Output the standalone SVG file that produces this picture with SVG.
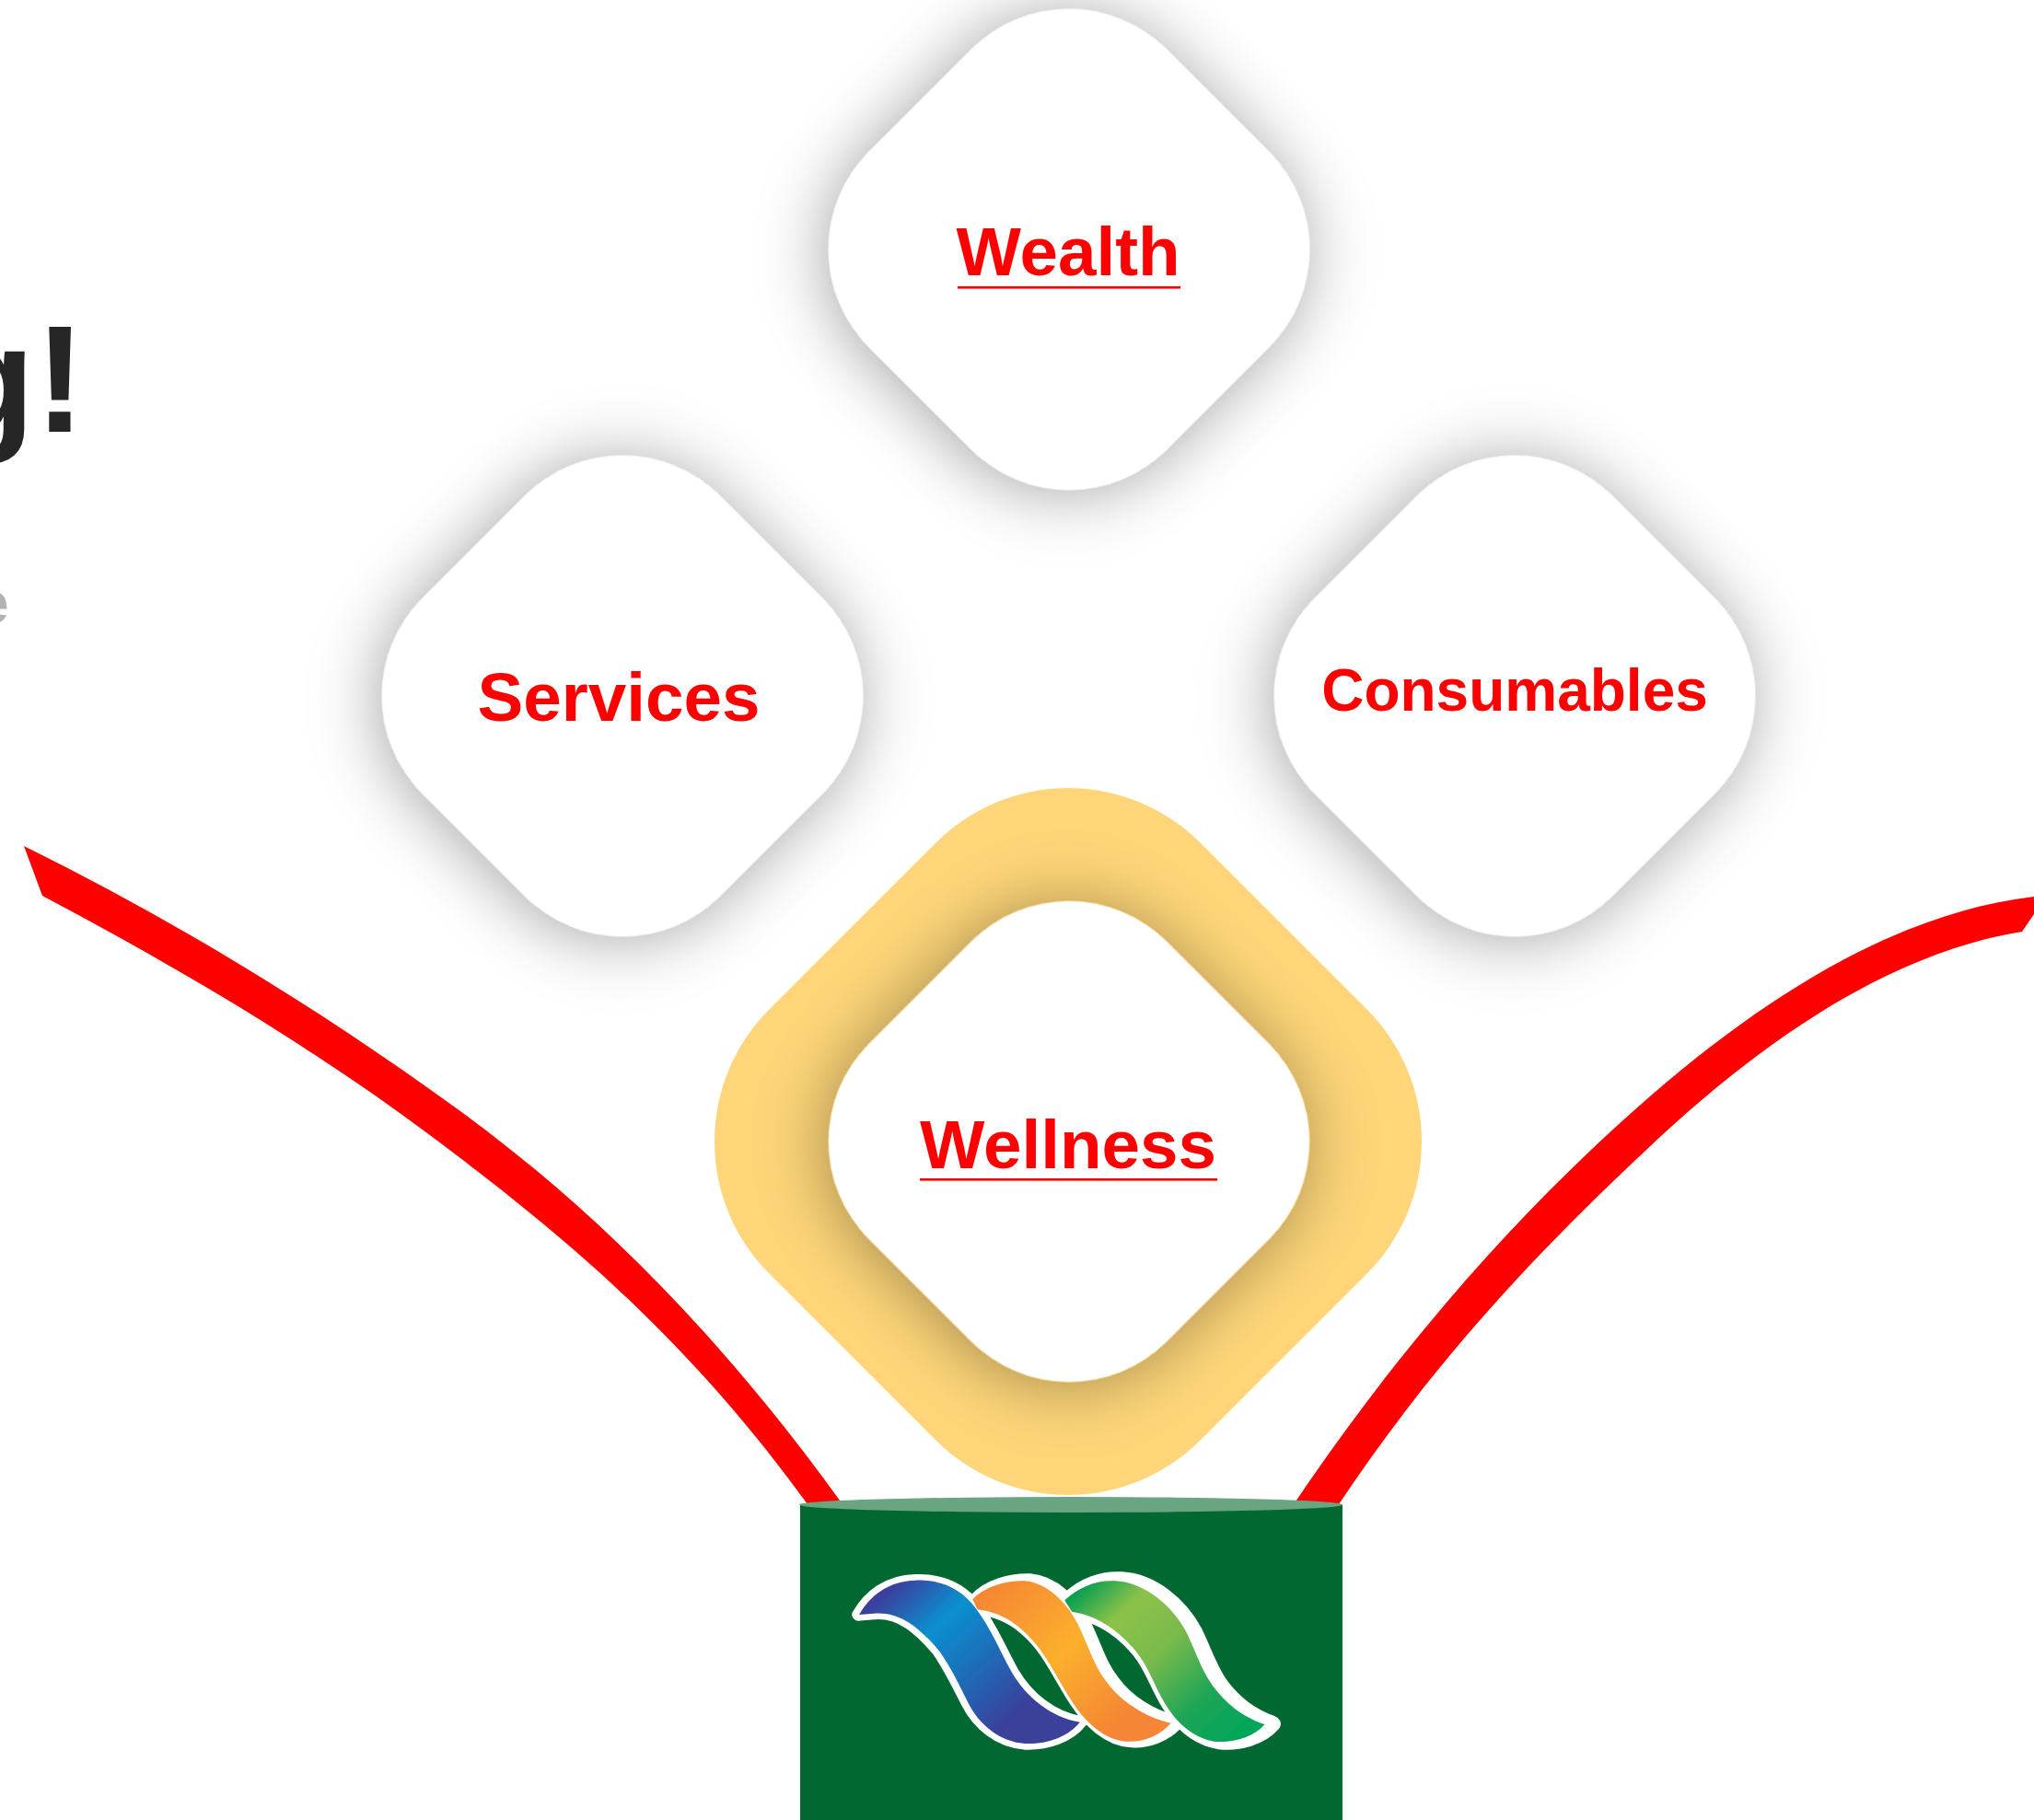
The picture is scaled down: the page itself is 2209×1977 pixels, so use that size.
<svg xmlns="http://www.w3.org/2000/svg" width="2209" height="1977" viewBox="0 0 2209 1977">
<style>
text{font-family:"Liberation Sans",Arial,sans-serif;font-weight:700}
.lbl{fill:#ff0000;font-size:74.6px}
.cn{fill:#ff0000}
.halo{fill:#ffffff;stroke:#ffffff;stroke-linejoin:round}
</style>
<defs>
<filter id="sh" x="-40%" y="-40%" width="180%" height="180%"><feDropShadow dx="0" dy="5" stdDeviation="36" flood-color="#000" flood-opacity="0.36"/></filter>
<filter id="soft" x="-5%" y="-5%" width="110%" height="110%"><feGaussianBlur stdDeviation="1.3"/></filter>
<linearGradient id="gb" gradientUnits="userSpaceOnUse" x1="230" y1="420" x2="700" y2="840"><stop offset="0" stop-color="#3B3F9C"/><stop offset=".28" stop-color="#0A90D0"/><stop offset=".55" stop-color="#1E6CB8"/><stop offset=".85" stop-color="#3A3F9A"/></linearGradient>
<linearGradient id="go" gradientUnits="userSpaceOnUse" x1="510" y1="400" x2="1000" y2="850"><stop offset="0" stop-color="#F58634"/><stop offset=".45" stop-color="#FBB02C"/><stop offset=".85" stop-color="#F58634"/></linearGradient>
<linearGradient id="gg" gradientUnits="userSpaceOnUse" x1="770" y1="410" x2="1250" y2="850"><stop offset="0" stop-color="#0DA050"/><stop offset=".2" stop-color="#8CC24A"/><stop offset=".45" stop-color="#7ABA4C"/><stop offset=".75" stop-color="#1DA557"/><stop offset="1" stop-color="#00A65A"/></linearGradient>
<rect id="dia" x="-228.5" y="-228.5" width="457" height="457" rx="150" ry="150" fill="#fff" filter="url(#sh)"/>
<path id="rb" d="M185 462C215 400 265 352 340 350C420 347 470 385 505 440C550 510 575 590 605 650C645 730 710 795 792 812C760 860 700 885 640 882C570 875 515 820 485 750C460 690 435 630 405 580C355 510 300 450 225 458Z"/>
<path id="ro" d="M497 412C530 370 590 350 640 352C700 358 755 420 785 490C815 560 830 630 865 680C905 745 970 795 1042 815C1010 860 960 878 920 875C860 872 805 810 770 745C740 690 715 630 685 580C645 515 590 455 510 445Z"/>
<path id="rg" d="M750 415C790 370 840 348 890 352C970 358 1045 430 1085 520C1110 580 1125 640 1155 690C1195 755 1240 795 1300 820C1270 862 1210 882 1160 875C1100 862 1055 810 1025 750C995 690 980 630 945 580C895 510 840 465 770 452Z"/>
</defs>
<rect id="bg" width="2209" height="1977" fill="#fff"/>
<g id="title">
<text x="-63" y="469" font-size="165" fill="#262626">g!</text>
<text x="-26" y="677" font-size="64" fill="#b2b2b2">e</text>
</g>
<g id="connectors" fill="#ff0000">
<path id="arc-left" d="M26 919C184 997 342 1092 500 1207C637 1307 777 1442 915 1634L877 1634C750 1459 624 1353 500 1258C349 1142 197 1053 46 973Z"/>
<path id="arc-right" d="M1405 1634C1514 1473 1620 1352 1727 1250C1888 1097 2048 993 2209 974L2209 993L2196 1012C2060 1034 1923 1121 1787 1250C1672 1358 1560 1475 1454 1634Z"/>
</g>
<g id="wellness-ring"><rect x="-331" y="-331" width="662" height="662" rx="203" ry="203" fill="#FED679" transform="translate(1160 1240) rotate(45)"/></g>
<g id="wealth"><use href="#dia" transform="translate(1161 271) rotate(45)"/><text class="lbl" x="1160" y="299" text-anchor="middle">Wealth</text><rect class="cn" x="1040" y="311" width="242" height="2.6"/></g>
<g id="services"><use href="#dia" transform="translate(676 756) rotate(45)"/><text class="lbl" x="672" y="783" text-anchor="middle">Services</text></g>
<g id="consumables"><use href="#dia" transform="translate(1645 756) rotate(45)"/><text class="lbl" x="1645" y="772" text-anchor="middle" style="font-size:64px">Consumables</text></g>
<g id="wellness"><use href="#dia" transform="translate(1161 1240) rotate(45)"/><text class="lbl" x="1160" y="1269" text-anchor="middle">Wellness</text><rect class="cn" x="999" y="1280" width="323" height="2.6"/></g>
<g id="base">
<rect x="869" y="1635" width="589" height="342" fill="#026831"/>
<ellipse cx="1163" cy="1634.5" rx="295" ry="8.5" fill="#68A580"/>
<g id="logo" transform="translate(860 1600) scale(.395 .3333)" filter="url(#soft)">
<use href="#rb" class="halo" style="stroke-width:40"/>
<use href="#ro" class="halo" transform="translate(14 -2)" style="stroke-width:44"/>
<use href="#rg" class="halo" transform="translate(16 -2)" style="stroke-width:56"/>
<use href="#rg" fill="url(#gg)"/>
<use href="#ro" fill="url(#go)"/>
<use href="#rb" fill="url(#gb)"/>
</g>
</g>
</svg>
